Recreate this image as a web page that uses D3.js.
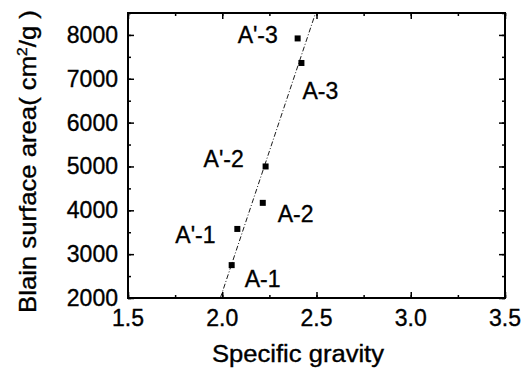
<!DOCTYPE html>
<html><head><meta charset="utf-8">
<script src="https://cdn.jsdelivr.net/npm/d3@7"></script>
<style>
body{margin:0;background:#fff;}
svg{display:block;}
text{font-family:"Liberation Sans",Arial,sans-serif;fill:#000;stroke:#000;stroke-width:0.35px;}
</style></head>
<body>
<script>
const labels = ["A-1","A'-1","A-2","A'-2","A-3","A'-3"];
const gravity = [2.05, 2.08, 2.215, 2.23, 2.42, 2.40];
const blain = [2750, 3575, 4170, 5000, 7360, 7920];
const labelDx = [13, -62, 15, -62, 1, -60];
const labelDy = [22, 14, 19, 1, 36, 5];
const fitX = [1.99, 2.495];
const fitY = [2000, 8500];
const xTicks = [1.5, 2.0, 2.5, 3.0, 3.5];
const yTicks = [2000, 3000, 4000, 5000, 6000, 7000, 8000];

const W = 530, H = 369;
const m = {l:128, t:13, r:25, b:71};
const svg = d3.select("body").append("svg").attr("width", W).attr("height", H);
const x = d3.scaleLinear().domain([1.5, 3.5]).range([m.l, W - m.r]);
const y = d3.scaleLinear().domain([2000, 8500]).range([H - m.b, m.t]);

const fs = 23;
const xMinor = d3.range(1.5, 3.5001, 0.25);
const yMinor = d3.range(2000, 8500.1, 500);
const g = svg.append("g");
function tickSet(axisGen, scale, vals, len, transform){
  const a = g.append("g").attr("transform", transform)
    .call(axisGen(scale).tickValues(vals).tickSize(len).tickFormat(""));
  a.select(".domain").remove();
  a.selectAll("line").attr("stroke","#000").attr("stroke-width",1.5);
}
const bottomY = H - m.b, rightX = W - m.r;
tickSet(d3.axisTop, x, xMinor, 3, `translate(0,${bottomY})`);
tickSet(d3.axisTop, x, xTicks, 6, `translate(0,${bottomY})`);
tickSet(d3.axisBottom, x, xMinor, 3, `translate(0,${m.t})`);
tickSet(d3.axisBottom, x, xTicks, 6, `translate(0,${m.t})`);
tickSet(d3.axisRight, y, yMinor, 3, `translate(${m.l},0)`);
tickSet(d3.axisRight, y, yTicks, 6, `translate(${m.l},0)`);
tickSet(d3.axisLeft, y, yMinor, 3, `translate(${rightX},0)`);
tickSet(d3.axisLeft, y, yTicks, 6, `translate(${rightX},0)`);

svg.append("rect").attr("x", m.l).attr("y", m.t)
  .attr("width", rightX - m.l).attr("height", bottomY - m.t)
  .attr("fill","none").attr("stroke","#000").attr("stroke-width",2);

svg.append("g").selectAll("text").data(xTicks).join("text")
  .attr("x", d => x(d)).attr("y", bottomY + 28)
  .attr("text-anchor","middle").attr("font-size", fs)
  .text(d => d3.format(".1f")(d));
svg.append("g").selectAll("text").data(yTicks).join("text")
  .attr("x", m.l - 10).attr("y", d => y(d) + 8)
  .attr("text-anchor","end").attr("font-size", fs)
  .text(d => d);

svg.append("text").attr("x", 298).attr("y", 362)
  .attr("text-anchor","middle").attr("font-size", fs)
  .attr("textLength", 172).attr("lengthAdjust","spacingAndGlyphs")
  .text("Specific gravity");
const ytg = svg.append("g");
const yt = ytg.append("text").attr("text-anchor","middle").attr("font-size", fs);
yt.append("tspan").text("Blain surface area( cm");
yt.append("tspan").attr("font-size", 14).attr("dy", -9).text("2");
yt.append("tspan").attr("dy", 9).text("/g )");
const bw = yt.node().getBBox().width;
const sx = 303 / bw;
ytg.attr("transform", `translate(36,${(10+313)/2}) rotate(-90) scale(${sx},1)`);

svg.append("line")
  .attr("x1", x(fitX[0])).attr("y1", y(fitY[0]))
  .attr("x2", x(fitX[1])).attr("y2", y(fitY[1]))
  .attr("stroke","#000").attr("stroke-width",0.9)
  .attr("stroke-dasharray","5,2,1,2");

const pts = labels.map((l,i) => ({l, gx: gravity[i], b: blain[i], dx: labelDx[i], dy: labelDy[i]}));
svg.append("g").selectAll("rect").data(pts).join("rect")
  .attr("x", d => x(d.gx) - 3).attr("y", d => y(d.b) - 3)
  .attr("width",6).attr("height",6).attr("fill","#000");
svg.append("g").selectAll("text").data(pts).join("text")
  .attr("x", d => x(d.gx) + d.dx).attr("y", d => y(d.b) + d.dy)
  .attr("font-size", fs).text(d => d.l);
</script>
</body></html>
